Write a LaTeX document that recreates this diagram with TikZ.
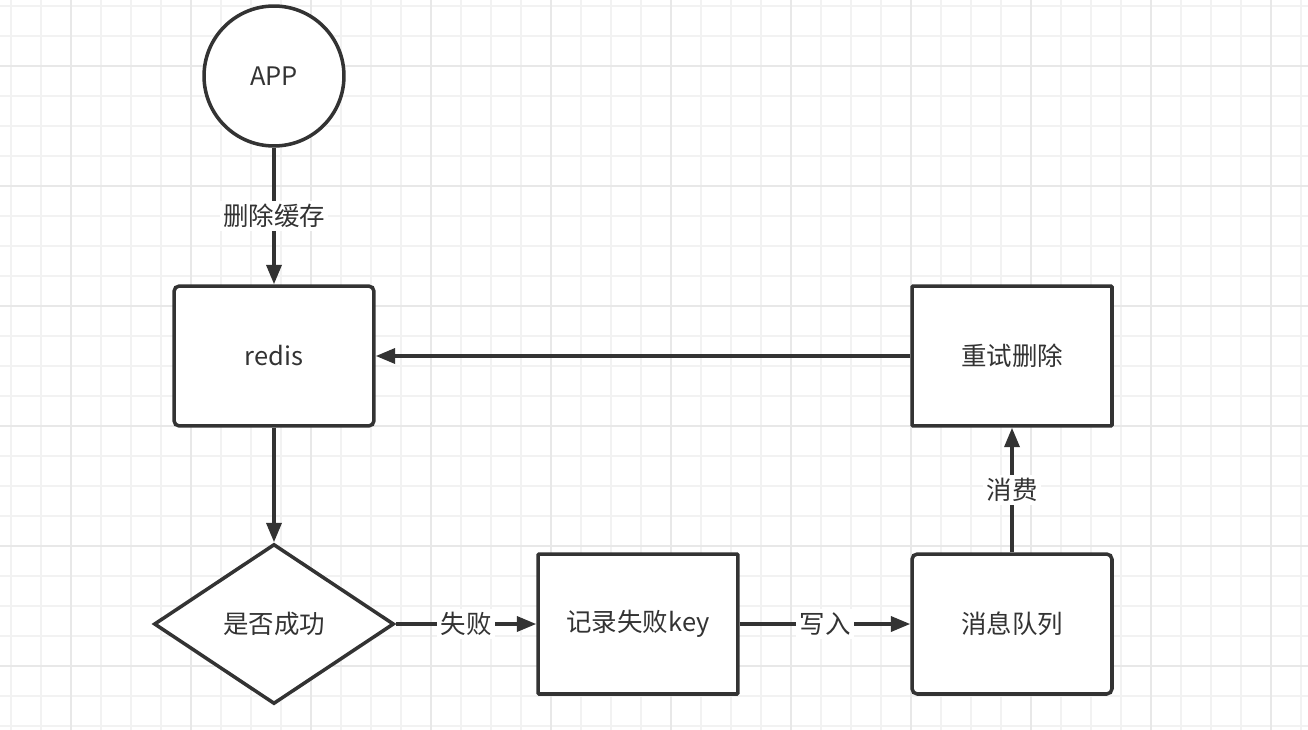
\documentclass[tikz,border=0pt]{standalone}
\usepackage{fontspec}
\setmainfont{Noto Sans CJK SC}
\usetikzlibrary{arrows.meta,shapes.geometric}
\definecolor{ink}{HTML}{333333}
\definecolor{gridminor}{HTML}{F2F2F2}
\definecolor{gridmajor}{HTML}{E8E8E8}
\tikzset{
  base/.style={draw=ink,line width=2pt,fill=white,text=ink,font=\fontsize{14.5}{17}\selectfont,align=center},
  proc/.style={base,rectangle,rounded corners=3pt,minimum width=4cm,minimum height=2.8cm},
  plain/.style={base,rectangle,rounded corners=0.6pt,minimum width=4cm,minimum height=2.8cm},
  start/.style={base,circle,minimum size=2.8cm},
  check/.style={base,diamond,minimum width=4.8cm,minimum height=3.2cm},
  flow/.style={-{Triangle[length=11pt,width=8.5pt]},draw=ink,line width=2pt},
  tag/.style={fill=white,text=ink,inner sep=2pt,font=\fontsize{14.5}{17}\selectfont}
}

\begin{document}
\begin{tikzpicture}[x=0.02cm,y=-0.02cm]
  \useasboundingbox (0,0) rectangle (1308,730);
  \fill[white] (0,0) rectangle (1308,730);

  % background grid
  \foreach \gx in {11,41,...,1301} \draw[gridminor,line width=1pt] (\gx,0) -- (\gx,730);
  \foreach \gy in {6,36,...,726} \draw[gridminor,line width=1pt] (0,\gy) -- (1308,\gy);
  \foreach \gx in {71,191,...,1271} \draw[gridmajor,line width=1.2pt] (\gx,0) -- (\gx,730);
  \foreach \gy in {66,186,...,666} \draw[gridmajor,line width=1.2pt] (0,\gy) -- (1308,\gy);

  % nodes
  \node[start] (app) at (274,76) {APP};
  \node[proc] (redis) at (274,356) {redis};
  \node[check] (check) at (274,624) {是否成功};
  \node[plain] (record) at (638,624) {记录失败key};
  \node[proc] (queue) at (1012,624) {消息队列};
  \node[plain] (retry) at (1012,356) {重试删除};

  % connectors
  \draw[flow] (app) -- node[tag]{删除缓存} (redis);
  \draw[flow] (redis) -- (check);
  \draw[flow] (check) -- node[tag]{失败} (record);
  \draw[flow] (record) -- node[tag]{写入} (queue);
  \draw[flow] (queue) -- node[tag]{消费} (retry);
  \draw[flow] (retry) -- (redis);
\end{tikzpicture}
\end{document}
